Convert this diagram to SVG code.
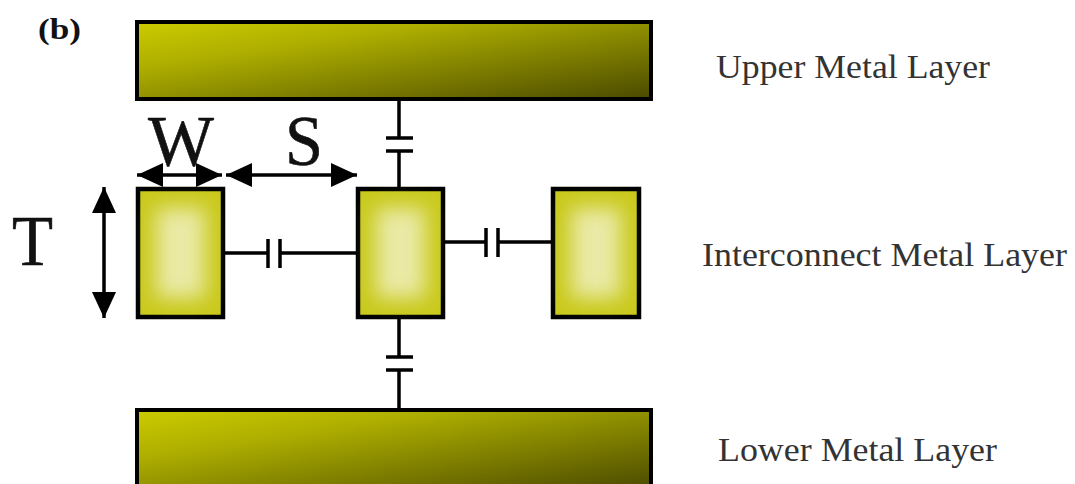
<svg xmlns="http://www.w3.org/2000/svg" width="1075" height="484" viewBox="0 0 1075 484">
<style>
text{font-family:"Liberation Serif","Times New Roman",serif;fill:#111}
.lab{font-size:33px;fill:#333}
.big{font-size:72px;stroke:#111;stroke-width:.6}
.plate{fill:url(#metal);stroke:#000;stroke-width:4}
.core{fill:#c9c91c;stroke:#000;stroke-width:4.5}
.glow{fill:#eaeaa6;filter:url(#soft)}
.w{stroke:#000;stroke-width:3.5;fill:none}
.a{stroke:#000;stroke-width:3.5;fill:none;marker-start:url(#h);marker-end:url(#h)}
</style>
<defs>
<linearGradient id="metal" x1="0" y1="0" x2="1" y2="1"><stop offset="0" stop-color="#cccc00"/><stop offset="0.3" stop-color="#aeae00"/><stop offset="1" stop-color="#4a4a00"/></linearGradient>
<filter id="soft" x="-50%" y="-50%" width="200%" height="200%"><feGaussianBlur stdDeviation="10"/></filter>
<marker id="h" viewBox="0 0 26 24" refX="26" refY="12" markerUnits="userSpaceOnUse" markerWidth="26" markerHeight="24" orient="auto-start-reverse"><path d="M0 0L26 12L0 24Z" fill="#000"/></marker>
</defs>
<g id="upper-metal"><rect class="plate" x="137" y="22" width="514" height="77"/><rect x="649" y="20" width="4" height="80" fill="#000"/></g>
<g id="lower-metal"><rect class="plate" x="137" y="410" width="514" height="80"/><rect x="649" y="408" width="4" height="76" fill="#000"/></g>
<g id="wire-1"><rect class="core" x="138" y="189" width="85" height="128"/><rect class="glow" x="156" y="208" width="49" height="90"/></g>
<g id="wire-2"><rect class="core" x="358" y="189" width="85" height="128"/><rect class="glow" x="376" y="208" width="49" height="90"/></g>
<g id="wire-3"><rect class="core" x="553" y="189" width="86" height="128"/><rect class="glow" x="571" y="208" width="50" height="90"/></g>
<g id="connectors">
<path class="w" d="M399 100V138M386 138H413M386 151H413M399 151V187"/>
<path class="w" d="M399 319V357M386 357H413M386 370H413M399 370V408"/>
<path class="w" d="M225 253H268M268 239V268M280 239V268M280 253H356"/>
<path class="w" d="M445 242H486M486 228V257M498 228V257M498 242H551"/>
<line class="a" x1="137" y1="175" x2="222" y2="175"/>
<line class="a" x1="226" y1="175" x2="357" y2="175"/>
<line class="a" x1="104" y1="187" x2="104" y2="318"/>
</g>
<g id="labels">
<text x="38" y="39" font-size="30" font-weight="bold" textLength="43" lengthAdjust="spacingAndGlyphs">(b)</text>
<text class="big" x="148" y="165" textLength="66" lengthAdjust="spacingAndGlyphs">W</text>
<text class="big" x="285" y="165" textLength="38" lengthAdjust="spacingAndGlyphs">S</text>
<text class="big" x="12" y="265" textLength="41" lengthAdjust="spacingAndGlyphs">T</text>
<text class="lab" x="716" y="78" textLength="274" lengthAdjust="spacingAndGlyphs">Upper Metal Layer</text>
<text class="lab" x="702" y="266" textLength="365" lengthAdjust="spacingAndGlyphs">Interconnect Metal Layer</text>
<text class="lab" x="718" y="461" textLength="279" lengthAdjust="spacingAndGlyphs">Lower Metal Layer</text>
</g>
</svg>
